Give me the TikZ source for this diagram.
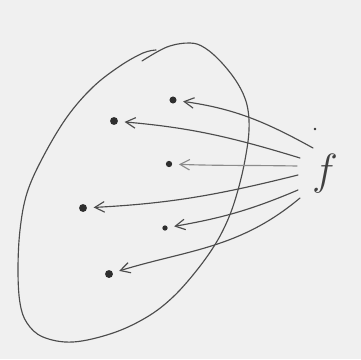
\documentclass[tikz,border=0pt]{standalone}
\usetikzlibrary{arrows.meta}
\begin{document}
\begin{tikzpicture}[x=0.02cm,y=0.02cm,line cap=round,line join=round,
  pencil/.style={black!70,line width=0.65pt},
  pt/.style={circle,fill=black!82,inner sep=0pt,minimum size=4pt},
  maps/.style={pencil,-{Straight Barb[length=5.5pt,width=6pt]},shorten >=3.6pt}]
\fill[black!6] (0,0) rectangle (361,359);
\draw[pencil] plot[smooth,tension=0.6] coordinates {(142,298) (167,312) (190,316) (205,311) (222,296) (238,275) (247,254) (249,229) (245,199) (238,169) (229,142) (216,116) (197,89) (173,62) (147,42) (113,26) (73,17) (43,22) (27,36) (20,56) (18,89) (20,129) (27,166) (43,202) (67,242) (93,272) (120,293) (143,306) (156,309)};
\node[pt] (d1) at (173,259) {};
\node[pt,minimum size=4.5pt] (d2) at (114,238) {};
\node[pt,minimum size=3.6pt] (d3) at (169,195) {};
\node[pt,minimum size=4.5pt] (d4) at (83,151) {};
\node[pt,minimum size=3pt] (d5) at (165,131) {};
\node[pt,minimum size=4.5pt] (d6) at (109,85) {};
\node[text=black!75,font=\fontsize{33}{33}\selectfont,inner sep=0pt,anchor=base] (f) at (325,175) {$f$};
\node[circle,fill=black!80,inner sep=0pt,minimum size=1.5pt] (fdot) at (315,230) {};
\coordinate (s1) at (313,211);
\coordinate (s2) at (300,201);
\coordinate (s3) at (297,193);
\coordinate (s4) at (298,184);
\coordinate (s5) at (298,169);
\coordinate (s6) at (300,161);
\draw[maps] (s1) to[out=151,in=-8] (d1);
\draw[maps] (s2) to[out=163,in=-5] (d2);
\draw[maps,black!45] (s3) to[out=179,in=-2] (d3);
\draw[maps] (s4) to[out=194,in=3] (d4);
\draw[maps] (s5) to[out=203,in=10] (d5);
\draw[maps] (s6) to[out=220,in=17] (d6);
\end{tikzpicture}
\end{document}
